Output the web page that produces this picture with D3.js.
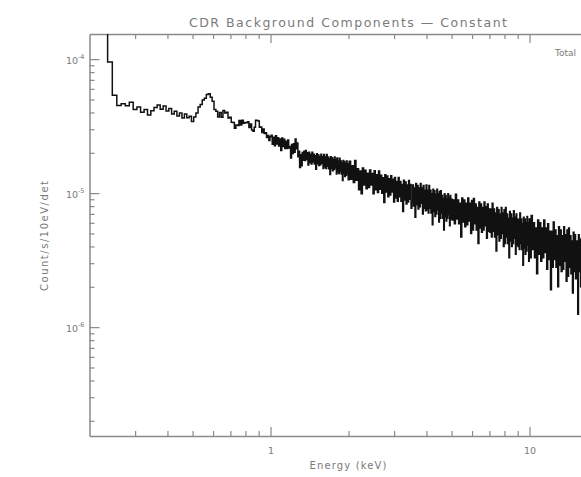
<!DOCTYPE html>
<html>
<head>
<meta charset="utf-8">
<script src="https://cdn.jsdelivr.net/npm/d3@7"></script>
<style>
  html, body { margin: 0; padding: 0; background: #fff; overflow: hidden; }
  svg text { font-family: "DejaVu Sans", sans-serif; fill: #7a7a7a; }
</style>
</head>
<body>
<svg id="chart" width="581" height="477"></svg>
<script>
// ---- Labels and ticks ----
const titleText = "CDR Background Components \u2014 Constant";
const xLabelText = "Energy (keV)";
const yLabelText = "Count/s/10eV/det";
const legendLabels = ["Total"];

const xDomain = [0.2, 20];
const yDomain = [1.54e-7, 1.54e-4];
const xMajorTicks = [1, 10];
const xMinorTicks = [0.3, 0.4, 0.5, 0.6, 0.7, 0.8, 0.9, 2, 3, 4, 5, 6, 7, 8, 9];
const yMajorTicks = [1e-6, 1e-5, 1e-4];
const yMajorExponents = ["-6", "-5", "-4"];
const yMinorTicks = [2e-7, 3e-7, 4e-7, 5e-7, 6e-7, 7e-7, 8e-7, 9e-7,
                     2e-6, 3e-6, 4e-6, 5e-6, 6e-6, 7e-6, 8e-6, 9e-6,
                     2e-5, 3e-5, 4e-5, 5e-5, 6e-5, 7e-5, 8e-5, 9e-5];

// ---- Spectrum: channel energy (keV) and rate (in units of 1e-6 count/s/10eV/det) ----
const rateUnit = 1e-6;

const energyKeV = [
  0.23,0.24,0.25,0.26,0.27,0.28,0.29,0.30,0.31,0.32,0.33,0.34,0.35,0.36,0.37,0.38,0.39,0.40,
  0.41,0.42,0.43,0.44,0.45,0.46,0.47,0.48,0.49,0.50,0.51,0.52,0.53,0.54,0.55,0.56,0.57,0.58,0.59,0.60,
  0.61,0.62,0.63,0.64,0.65,0.66,0.67,0.68,0.69,0.70,0.71,0.72,0.73,0.74,0.75,0.76,0.77,0.78,0.79,0.80,
  0.81,0.82,0.83,0.84,0.85,0.86,0.87,0.88,0.89,0.90,0.91,0.92,0.93,0.94,0.95,0.96,0.97,0.98,0.99,1.00,
  1.01,1.02,1.03,1.04,1.05,1.06,1.07,1.08,1.09,1.10,1.11,1.12,1.13,1.14,1.15,1.16,1.17,1.18,1.19,1.20,
  1.21,1.22,1.23,1.24,1.25,1.26,1.27,1.28,1.29,1.30,1.31,1.32,1.33,1.34,1.35,1.36,1.37,1.38,1.39,1.40,
  1.41,1.42,1.43,1.44,1.45,1.46,1.47,1.48,1.49,1.50,1.51,1.52,1.53,1.54,1.55,1.56,1.57,1.58,1.59,1.60,
  1.61,1.62,1.63,1.64,1.65,1.66,1.67,1.68,1.69,1.70,1.71,1.72,1.73,1.74,1.75,1.76,1.77,1.78,1.79,1.80,
  1.81,1.82,1.83,1.84,1.85,1.86,1.87,1.88,1.89,1.90,1.91,1.92,1.93,1.94,1.95,1.96,1.97,1.98,1.99,2.00,
  2.025,2.05,2.075,2.1,2.125,2.15,2.175,2.2,2.225,2.25,2.275,2.3,2.325,2.35,2.375,2.4,2.425,2.45,2.475,2.5,
  2.525,2.55,2.575,2.6,2.625,2.65,2.675,2.7,2.725,2.75,2.775,2.8,2.825,2.85,2.875,2.9,2.925,2.95,2.975,3.0,
  3.025,3.05,3.075,3.1,3.125,3.15,3.175,3.2,3.225,3.25,3.275,3.3,3.325,3.35,3.375,3.4,3.425,3.45,3.475,3.5,
  3.525,3.55,3.575,3.6,3.625,3.65,3.675,3.7,3.725,3.75,3.775,3.8,3.825,3.85,3.875,3.9,3.925,3.95,3.975,4.0,
  4.025,4.05,4.075,4.1,4.125,4.15,4.175,4.2,4.225,4.25,4.275,4.3,4.325,4.35,4.375,4.4,4.425,4.45,4.475,4.5,
  4.525,4.55,4.575,4.6,4.625,4.65,4.675,4.7,4.725,4.75,4.775,4.8,4.825,4.85,4.875,4.9,4.925,4.95,4.975,5.0,
  5.05,5.1,5.15,5.2,5.25,5.3,5.35,5.4,5.45,5.5,5.55,5.6,5.65,5.7,5.75,5.8,5.85,5.9,5.95,6.0,
  6.05,6.1,6.15,6.2,6.25,6.3,6.35,6.4,6.45,6.5,6.55,6.6,6.65,6.7,6.75,6.8,6.85,6.9,6.95,7.0,
  7.05,7.1,7.15,7.2,7.25,7.3,7.35,7.4,7.45,7.5,7.55,7.6,7.65,7.7,7.75,7.8,7.85,7.9,7.95,8.0,
  8.05,8.1,8.15,8.2,8.25,8.3,8.35,8.4,8.45,8.5,8.55,8.6,8.65,8.7,8.75,8.8,8.85,8.9,8.95,9.0,
  9.05,9.1,9.15,9.2,9.25,9.3,9.35,9.4,9.45,9.5,9.55,9.6,9.65,9.7,9.75,9.8,9.85,9.9,9.95,10.0,
  10.1,10.2,10.3,10.4,10.5,10.6,10.7,10.8,10.9,11.0,11.1,11.2,11.3,11.4,11.5,11.6,11.7,11.8,11.9,12.0,
  12.1,12.2,12.3,12.4,12.5,12.6,12.7,12.8,12.9,13.0,13.1,13.2,13.3,13.4,13.5,13.6,13.7,13.8,13.9,14.0,
  14.1,14.2,14.3,14.4,14.5,14.6,14.7,14.8,14.9,15.0,15.1,15.2,15.3,15.4,15.5,15.6,15.7,15.8,15.9,16.0,
  16.1,16.2,16.3,16.4,16.5,16.6,16.7,16.8,16.9,17.0,17.1,17.2,17.3,17.4,17.5,17.6,17.7,17.8,17.9,18.0,
  18.1,18.2,18.3,18.4,18.5,18.6,18.7,18.8,18.9,19.0,19.1,19.2,19.3,19.4,19.5,19.6,19.7,19.8,19.9,20.0
];

const totalRate = [
  300,95,53.8,45.0,46.5,44.8,47.6,42.0,44.0,40.2,42.1,38.3,41.2,43.6,45.5,42.2,44.6,41.0,
  42.8,38.9,40.8,37.6,39.7,36.4,38.9,36.5,37.4,34.2,37.0,39.6,44.0,45.8,49.5,51.0,54.5,55.2,52.0,48.5,
  42.0,40.8,37.0,39.9,36.8,41.3,39.6,40.2,36.4,36.9,33.8,33.6,30.5,32.3,32.0,34.8,32.2,35.0,33.2,33.7,
  33.5,34.1,30.9,32.8,29.6,29.0,31.0,35.0,34.9,34.6,31.0,31.2,28.4,30.1,27.9,28.2,26.0,26.9,24.7,26.3,
  27.0,23.2,26.1,22.6,26.8,23.3,25.9,22.5,25.3,20.8,25.8,22.3,25.2,21.5,24.4,21.5,24.9,21.7,22.3,18.3,
  23.1,19.8,23.4,20.2,25.3,21.4,23.7,18.7,20.5,15.5,19.3,16.0,20.1,17.6,20.5,17.5,20.8,17.8,20.0,16.2,
  20.2,16.9,19.5,16.5,20.2,17.1,19.5,16.5,19.0,15.1,19.7,16.6,19.3,16.1,18.8,16.3,19.5,16.7,18.8,15.3,
  19.4,15.7,18.6,15.3,19.4,15.9,18.6,15.2,18.1,13.8,18.7,15.3,18.4,14.7,17.8,15.0,18.6,15.4,17.8,13.9,
  18.3,14.4,17.4,14.0,18.2,14.6,17.4,13.9,16.8,12.4,17.5,14.0,17.2,13.3,16.6,13.6,17.4,14.1,16.6,12.6,
  17.3,12.7,16.0,12.0,17.5,12.5,15.2,10.6,14.6,9.9,15.4,11.5,14.8,10.8,14.1,11.0,14.9,11.5,14.0,9.9,
  14.7,10.6,13.7,10.1,14.6,10.7,13.6,10.0,13.0,8.5,13.7,10.2,13.4,9.4,12.8,9.7,13.5,10.2,12.7,8.6,
  13.1,9.2,12.2,8.7,13.1,9.4,12.2,8.7,11.6,7.3,12.5,8.9,12.1,8.3,11.5,8.6,12.4,9.0,11.6,7.7,
  8.7,11.5,8.0,10.9,6.6,11.8,8.2,11.4,7.6,10.9,7.9,11.8,8.4,10.9,7.0,11.4,7.7,10.5,7.4,11.5,
  7.5,10.5,7.1,11.4,7.7,10.5,7.1,9.9,5.8,10.7,7.3,10.4,6.7,9.8,7.0,10.7,7.5,9.9,6.1,10.3,
  6.5,10.4,7.1,9.6,6.5,9.1,5.3,9.9,6.7,9.6,6.2,9.1,6.5,9.9,6.9,9.2,5.7,9.6,6.4,9.0,
  6.3,8.9,5.9,9.8,6.4,8.9,5.9,8.4,4.7,9.2,6.1,8.9,5.6,8.4,5.8,9.2,6.2,8.4,5.0,8.8,
  5.3,9.1,5.9,8.3,5.3,7.8,4.2,8.6,5.5,8.3,5.1,7.8,5.3,8.6,5.7,7.9,4.6,8.3,5.2,7.6,
  5.1,7.6,4.7,8.4,5.2,7.6,4.7,7.1,3.7,7.8,4.9,7.5,4.4,7.0,4.6,7.8,5.0,7.1,4.0,7.5,
  4.2,7.8,4.7,7.0,4.2,6.5,3.3,7.3,4.4,7.0,4.0,6.5,4.2,7.4,4.6,6.6,3.5,7.0,4.1,6.4,
  4.0,6.3,3.8,7.1,4.2,6.4,3.8,5.9,2.9,6.6,3.9,6.4,3.5,6.0,3.7,6.7,4.1,6.0,3.1,6.4,
  3.3,6.8,3.8,6.0,3.3,5.5,2.5,6.3,3.5,6.0,3.1,5.5,3.3,6.3,3.6,5.5,2.7,5.9,3.2,5.2,
  1.9,5.2,2.8,6.1,3.2,5.3,2.8,4.8,2.0,5.6,2.9,5.3,2.6,4.8,2.7,5.6,3.1,4.9,2.2,5.3,
  2.4,5.5,2.8,4.8,2.5,4.4,1.8,5.1,2.6,4.9,2.3,4.4,2.5,1.25,4.9,2.6,4.5,2.0,4.6,2.4,
  4.9,2.3,4.2,2.1,5.0,2.5,4.4,2.1,4.0,1.5,4.7,2.3,4.5,2.0,4.0,2.2,4.8,2.4,4.2,1.7,
  4.5,2.1,3.9,1.9,4.6,2.3,4.0,2.0,3.6,1.4,4.3,2.1,4.1,1.8,3.7,2.0,4.4,2.2,3.8,1.6
];

// ---- Layout ----
const plot = { left: 89.5, right: 607.5, top: 34, bottom: 436 };
const axisColor = "#8a8a8a";
const textColor = "#7a7a7a";

const svg = d3.select("#chart");

const x = d3.scaleLog().domain(xDomain).range([plot.left, plot.right]);
const y = d3.scaleLog().domain(yDomain).range([plot.bottom, plot.top]);

function styleAxis(g) {
  g.attr("font-family", null).attr("font-size", null);
  g.selectAll("path.domain").attr("stroke", axisColor).attr("stroke-width", 1.5);
  g.selectAll(".tick line").attr("stroke", axisColor).attr("stroke-width", 1.2);
  g.selectAll(".tick text").attr("fill", textColor);
}
function minorOnly(g) {
  g.select("path.domain").remove();
}

// bottom axis
svg.append("g")
  .attr("transform", `translate(0,${plot.bottom})`)
  .call(d3.axisBottom(x).tickValues(xMinorTicks).tickSize(-5).tickSizeOuter(0).tickFormat(""))
  .call(styleAxis).call(minorOnly);
svg.append("g")
  .attr("transform", `translate(0,${plot.bottom})`)
  .call(d3.axisBottom(x).tickValues(xMajorTicks).tickSize(-9).tickSizeOuter(0)
        .tickPadding(11).tickFormat(d3.format("d")))
  .call(styleAxis)
  .call(g => g.selectAll(".tick text").style("font-size", "9.5px"));

// top axis
svg.append("g")
  .attr("transform", `translate(0,${plot.top})`)
  .call(d3.axisTop(x).tickValues(xMinorTicks).tickSize(-5).tickSizeOuter(0).tickFormat(""))
  .call(styleAxis).call(minorOnly);
svg.append("g")
  .attr("transform", `translate(0,${plot.top})`)
  .call(d3.axisTop(x).tickValues(xMajorTicks).tickSize(-9).tickSizeOuter(0).tickFormat(""))
  .call(styleAxis);

// left axis
svg.append("g")
  .attr("transform", `translate(${plot.left},0)`)
  .call(d3.axisLeft(y).tickValues(yMinorTicks).tickSize(-5).tickSizeOuter(0).tickFormat(""))
  .call(styleAxis).call(minorOnly);
const yAxisG = svg.append("g")
  .attr("transform", `translate(${plot.left},0)`)
  .call(d3.axisLeft(y).tickValues(yMajorTicks).tickSize(-10).tickSizeOuter(0).tickPadding(5))
  .call(styleAxis);
yAxisG.selectAll(".tick text")
  .text(null)
  .attr("dy", "0.42em")
  .style("font-size", "9.5px")
  .each(function (d, i) {
    const t = d3.select(this);
    t.append("tspan").text("10");
    t.append("tspan").attr("dy", "-0.75em").style("font-size", "6.5px").text(yMajorExponents[i]);
  });

// right axis
svg.append("g")
  .attr("transform", `translate(${plot.right},0)`)
  .call(d3.axisRight(y).tickValues(yMinorTicks).tickSize(-5).tickSizeOuter(0).tickFormat(""))
  .call(styleAxis).call(minorOnly);
svg.append("g")
  .attr("transform", `translate(${plot.right},0)`)
  .call(d3.axisRight(y).tickValues(yMajorTicks).tickSize(-10).tickSizeOuter(0).tickFormat(""))
  .call(styleAxis);

// ---- Spectrum line (histogram style) ----
svg.append("clipPath").attr("id", "plot-clip")
  .append("rect")
  .attr("x", plot.left).attr("y", plot.top)
  .attr("width", plot.right - plot.left).attr("height", plot.bottom - plot.top);

const spectrum = energyKeV.map((e, i) => ({ e, r: totalRate[i] * rateUnit }));
const line = d3.line()
  .x(d => x(d.e))
  .y(d => y(d.r))
  .curve(d3.curveStep);

svg.append("path")
  .datum(spectrum)
  .attr("clip-path", "url(#plot-clip)")
  .attr("fill", "none")
  .attr("stroke", "#111")
  .attr("stroke-width", 1.5)
  .attr("stroke-linejoin", "miter")
  .attr("d", line);

// ---- Legend ----
const legend = svg.append("g").attr("transform", "translate(555,56)");
legend.append("text").attr("x", 0).attr("y", 0).style("font-size", "9px").text(legendLabels[0]);
legend.append("line").attr("x1", 30).attr("x2", 48).attr("y1", -3).attr("y2", -3)
  .attr("stroke", "#111").attr("stroke-width", 1.2);

// ---- Titles ----
svg.append("text")
  .attr("x", 348).attr("y", 27)
  .attr("text-anchor", "middle")
  .attr("textLength", 318).attr("lengthAdjust", "spacing")
  .style("font-size", "12.5px")
  .text(titleText);

svg.append("text")
  .attr("x", 348).attr("y", 469)
  .attr("text-anchor", "middle")
  .attr("textLength", 77).attr("lengthAdjust", "spacing")
  .style("font-size", "10px")
  .text(xLabelText);

svg.append("text")
  .attr("transform", "translate(48,236) rotate(-90)")
  .attr("text-anchor", "middle")
  .attr("textLength", 110).attr("lengthAdjust", "spacing")
  .style("font-size", "10px")
  .text(yLabelText);
</script>
</body>
</html>
